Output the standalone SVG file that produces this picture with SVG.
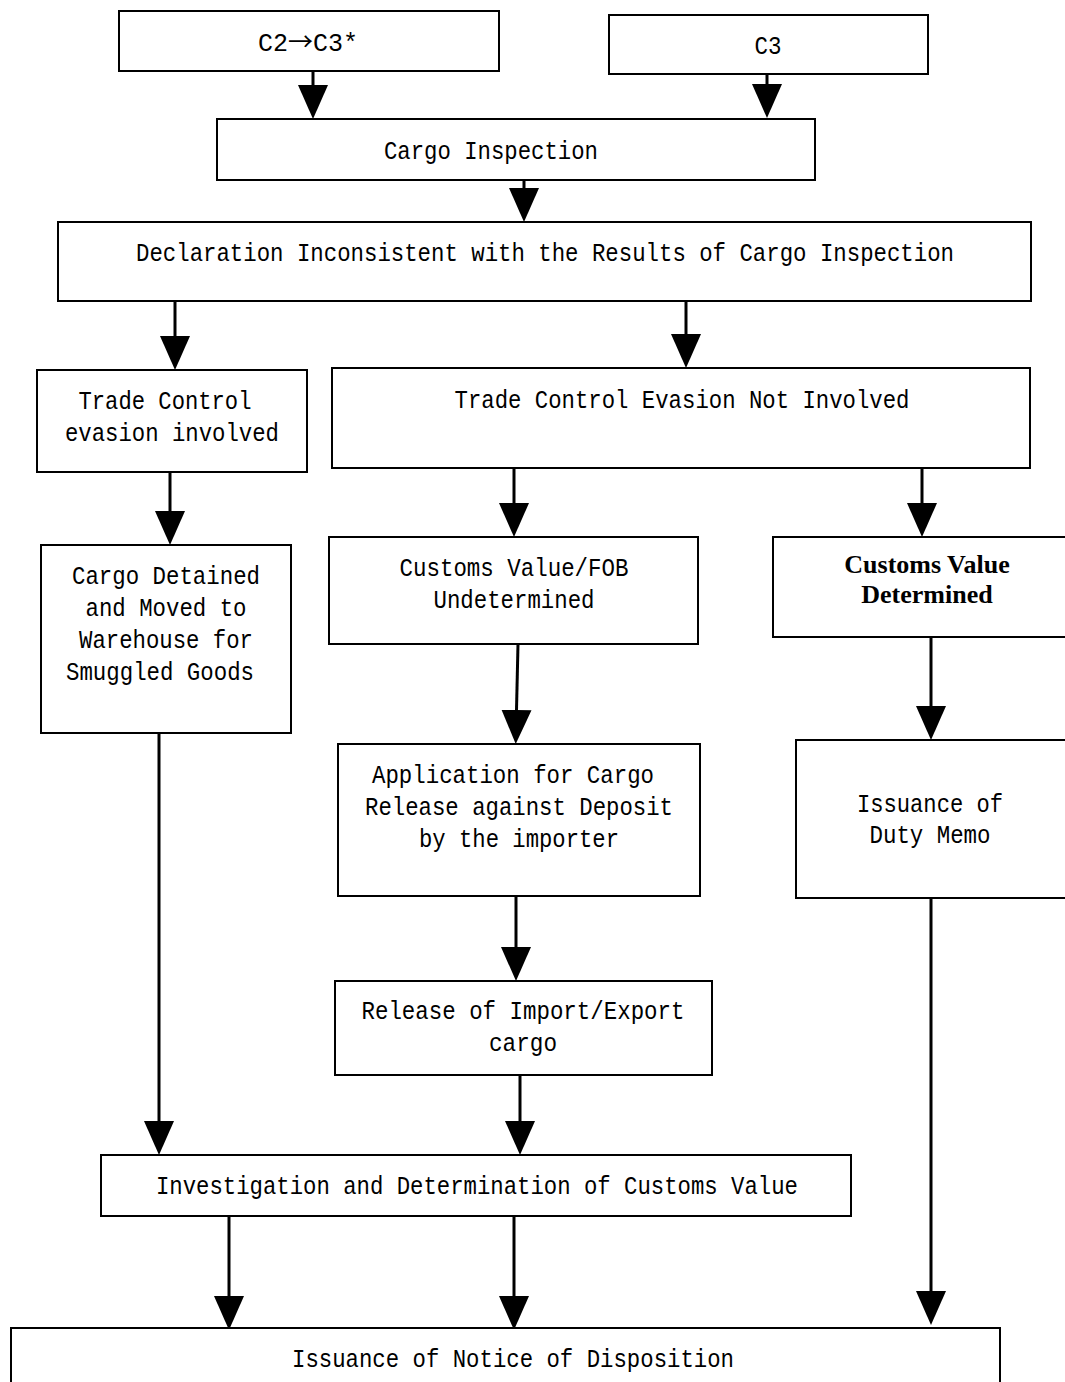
<svg xmlns="http://www.w3.org/2000/svg" width="1065" height="1382" viewBox="0 0 1065 1382">
<style>
.box{fill:#fff;stroke:#000;stroke-width:2}
.t{font-family:"Liberation Mono","DejaVu Sans Mono",monospace;font-size:25px;fill:#000;text-anchor:middle}
.b{font-family:"Liberation Serif","Times New Roman",serif;font-size:26px;font-weight:bold;fill:#000;text-anchor:middle}
.ar{font-family:"Noto Sans CJK SC","Liberation Mono",sans-serif}
.c{stroke:#000;stroke-width:3;fill:none;marker-end:url(#ah)}
</style>
<defs>
<marker id="ah" markerUnits="userSpaceOnUse" viewBox="0 -16 35 32" refX="0" refY="0" markerWidth="35" markerHeight="32" orient="auto">
<path d="M0,-15 L34,0 L0,15 Z" fill="#000"/>
</marker>
</defs>
<rect width="1065" height="1382" fill="#fff"/>
<g id="connectors">
<line class="c" x1="313" y1="71" x2="313" y2="85"/>
<line class="c" x1="767" y1="74" x2="767" y2="84"/>
<line class="c" x1="524" y1="180" x2="524" y2="188"/>
<line class="c" x1="175" y1="301" x2="175" y2="336"/>
<line class="c" x1="686" y1="301" x2="686" y2="334"/>
<line class="c" x1="170" y1="472" x2="170" y2="511"/>
<line class="c" x1="514" y1="468" x2="514" y2="503"/>
<line class="c" x1="922" y1="466" x2="922" y2="503"/>
<line class="c" x1="518" y1="644" x2="516.5" y2="710"/>
<line class="c" x1="931" y1="637" x2="931" y2="706"/>
<line class="c" x1="516" y1="890" x2="516" y2="947"/>
<line class="c" x1="159" y1="733" x2="159" y2="1121"/>
<line class="c" x1="520" y1="1070" x2="520" y2="1121"/>
<line class="c" x1="931" y1="898" x2="931" y2="1291"/>
<line class="c" x1="229" y1="1216" x2="229" y2="1296"/>
<line class="c" x1="514" y1="1216" x2="514" y2="1296"/>
</g>
<g id="n-c2c3">
<rect class="box" x="119" y="11" width="380" height="60"/>
<text class="t" x="308" y="51">C2<tspan class="ar">→</tspan>C3*</text>
</g>
<g id="n-c3">
<rect class="box" x="609" y="15" width="319" height="59"/>
<text class="t" x="768" y="54" textLength="27" lengthAdjust="spacingAndGlyphs">C3</text>
</g>
<g id="n-inspection">
<rect class="box" x="217" y="119" width="598" height="61"/>
<text class="t" x="491" y="159" textLength="214" lengthAdjust="spacingAndGlyphs">Cargo Inspection</text>
</g>
<g id="n-declaration">
<rect class="box" x="58" y="222" width="973" height="79"/>
<text class="t" x="545" y="261" textLength="818" lengthAdjust="spacingAndGlyphs">Declaration Inconsistent with the Results of Cargo Inspection</text>
</g>
<g id="n-tc-involved">
<rect class="box" x="37" y="370" width="270" height="102"/>
<text class="t" x="165" y="409" textLength="173" lengthAdjust="spacingAndGlyphs">Trade Control</text>
<text class="t" x="172" y="441" textLength="214" lengthAdjust="spacingAndGlyphs">evasion involved</text>
</g>
<g id="n-tc-not">
<rect class="box" x="332" y="368" width="698" height="100"/>
<text class="t" x="682" y="408" textLength="455" lengthAdjust="spacingAndGlyphs">Trade Control Evasion Not Involved</text>
</g>
<g id="n-detained">
<rect class="box" x="41" y="545" width="250" height="188"/>
<text class="t" x="166" y="584" textLength="188" lengthAdjust="spacingAndGlyphs">Cargo Detained</text>
<text class="t" x="166" y="616" textLength="161" lengthAdjust="spacingAndGlyphs">and Moved to</text>
<text class="t" x="166" y="648" textLength="174" lengthAdjust="spacingAndGlyphs">Warehouse for</text>
<text class="t" x="160" y="680" textLength="188" lengthAdjust="spacingAndGlyphs">Smuggled Goods</text>
</g>
<g id="n-fob">
<rect class="box" x="329" y="537" width="369" height="107"/>
<text class="t" x="514" y="576" textLength="229" lengthAdjust="spacingAndGlyphs">Customs Value/FOB</text>
<text class="t" x="514" y="608" textLength="161" lengthAdjust="spacingAndGlyphs">Undetermined</text>
</g>
<g id="n-determined">
<rect class="box" x="773" y="537" width="320" height="100"/>
<text class="b" x="927" y="573">Customs Value</text>
<text class="b" x="927" y="603">Determined</text>
</g>
<g id="n-application">
<rect class="box" x="338" y="744" width="362" height="152"/>
<text class="t" x="513" y="783" textLength="282" lengthAdjust="spacingAndGlyphs">Application for Cargo</text>
<text class="t" x="519" y="815" textLength="308" lengthAdjust="spacingAndGlyphs">Release against Deposit</text>
<text class="t" x="519" y="847" textLength="200" lengthAdjust="spacingAndGlyphs">by the importer</text>
</g>
<g id="n-duty">
<rect class="box" x="796" y="740" width="320" height="158"/>
<text class="t" x="930" y="812" textLength="146" lengthAdjust="spacingAndGlyphs">Issuance of</text>
<text class="t" x="930" y="843" textLength="121" lengthAdjust="spacingAndGlyphs">Duty Memo</text>
</g>
<g id="n-release">
<rect class="box" x="335" y="981" width="377" height="94"/>
<text class="t" x="523" y="1019" textLength="323" lengthAdjust="spacingAndGlyphs">Release of Import/Export</text>
<text class="t" x="523" y="1051" textLength="68" lengthAdjust="spacingAndGlyphs">cargo</text>
</g>
<g id="n-investigation">
<rect class="box" x="101" y="1155" width="750" height="61"/>
<text class="t" x="477" y="1194" textLength="642" lengthAdjust="spacingAndGlyphs">Investigation and Determination of Customs Value</text>
</g>
<g id="n-notice">
<rect class="box" x="11" y="1328" width="989" height="100"/>
<text class="t" x="513" y="1367" textLength="442" lengthAdjust="spacingAndGlyphs">Issuance of Notice of Disposition</text>
</g>
</svg>
